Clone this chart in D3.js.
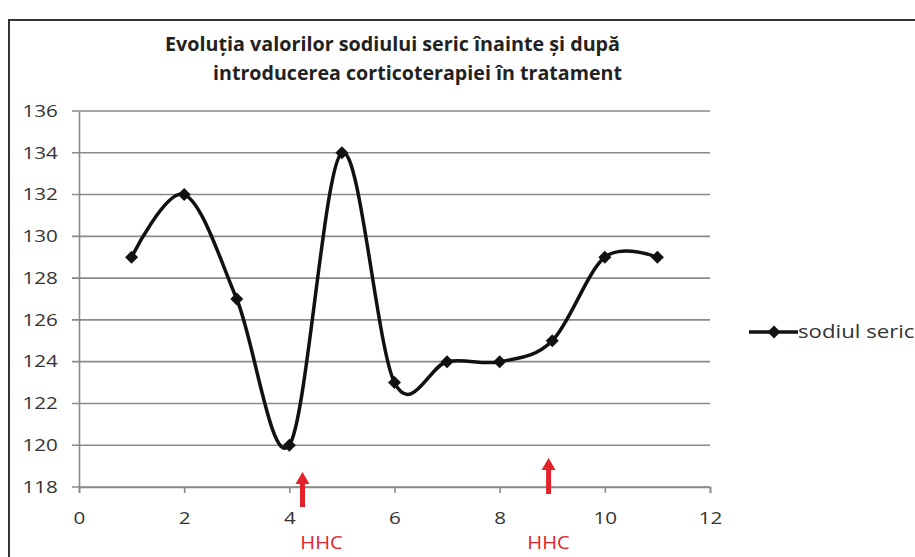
<!DOCTYPE html>
<html>
<head>
<meta charset="utf-8">
<script src="https://cdn.jsdelivr.net/npm/d3@7"></script>
<style>
  body { margin: 0; background: #fff; }
  text { font-family: "Open Sans", Lato, sans-serif; }
</style>
</head>
<body>
<script>
// data
const xs = [1, 2, 3, 4, 5, 6, 7, 8, 9, 10, 11];
const sodium = [129, 132, 127, 120, 134, 123, 124, 124, 125, 129, 129];
const xTicks = [0, 2, 4, 6, 8, 10, 12];
const yTicks = [118, 120, 122, 124, 126, 128, 130, 132, 134, 136];
const hhcMarks = [4.25, 8.93];
const titleLines = ["Evoluția valorilor sodiului seric înainte și după", "introducerea corticoterapiei în tratament"];
const seriesName = "sodiul seric";

const W = 915, H = 557;
// the source picture is a little stretched sideways, so the text is too
const stretch = 1.25;

const svg = d3.select("body").append("svg")
    .attr("width", W)
    .attr("height", H);

// frame
svg.append("rect")
    .attr("x", 9).attr("y", 20)
    .attr("width", 930).attr("height", 560)
    .attr("fill", "none")
    .attr("stroke", "#333")
    .attr("stroke-width", 2);

let x = d3.scaleLinear().domain([0, 12]).range([79, 710]);
let y = d3.scaleLinear().domain([118, 136]).range([487, 111]);

// title (positions of each line as in the picture)
const titleX = [165, 213], titleW = [455, 409], titleY = [51, 80];
svg.append("g")
   .selectAll("text")
   .data(titleLines)
   .enter()
   .append("text")
   .attr("x", (d, i) => titleX[i])
   .attr("y", (d, i) => titleY[i])
   .attr("textLength", (d, i) => titleW[i])
   .attr("lengthAdjust", "spacingAndGlyphs")
   .attr("font-size", 19)
   .attr("font-weight", "bold")
   .attr("fill", "#222")
   .text(d => d);

// grid lines
svg.append("g")
   .selectAll("line")
   .data(yTicks)
   .enter()
   .append("line")
   .attr("x1", 72).attr("x2", x(12))
   .attr("y1", d => y(d)).attr("y2", d => y(d))
   .attr("stroke", "#8a8a8a")
   .attr("stroke-width", 1.6);

// y axis
let yAxis = svg.append("g")
    .attr("transform", `translate(${x(0)},0)`)
    .call(d3.axisLeft(y).tickValues(yTicks).tickSize(0).tickPadding(17));
yAxis.select(".domain").attr("stroke", "#8a8a8a").attr("stroke-width", 1.6);
yAxis.selectAll("text")
     .attr("font-size", 16.5).attr("fill", "#333")
     .attr("transform", `scale(${stretch},1)`)
     .style("font-family", "'Open Sans', sans-serif");

// x axis
let xAxis = svg.append("g")
    .attr("transform", `translate(0,${y(118)})`)
    .call(d3.axisBottom(x).tickValues(xTicks).tickSize(6).tickPadding(19));
xAxis.select(".domain").attr("stroke", "#8a8a8a").attr("stroke-width", 1.6);
xAxis.selectAll(".tick line").attr("stroke", "#8a8a8a").attr("stroke-width", 1.6);
xAxis.selectAll("text")
     .attr("font-size", 16.5).attr("fill", "#333")
     .attr("transform", `scale(${stretch},1)`)
     .style("font-family", "'Open Sans', sans-serif");

// smoothed line
let line = d3.line()
    .x((d, i) => x(xs[i]))
    .y(d => y(d))
    .curve(d3.curveCardinal.tension(0));
svg.append("path")
   .datum(sodium)
   .attr("d", line)
   .attr("fill", "none")
   .attr("stroke", "#111")
   .attr("stroke-width", 3.5);

// diamond markers
let diamond = d3.symbol().type(d3.symbolSquare).size(85);
svg.append("g")
   .selectAll("path")
   .data(sodium)
   .enter()
   .append("path")
   .attr("d", diamond)
   .attr("transform", (d, i) => `translate(${x(xs[i])},${y(d)}) rotate(45)`)
   .attr("fill", "#111");

// HHC arrows
let hhc = svg.append("g")
    .selectAll("g")
    .data(hhcMarks)
    .enter()
    .append("g")
    .attr("transform", d => `translate(${x(d)},0)`);
hhc.append("line")
   .attr("x1", 0).attr("x2", 0)
   .attr("y1", (d, i) => i == 0 ? 482 : 468)
   .attr("y2", (d, i) => i == 0 ? 507 : 494)
   .attr("stroke", "#e3222b")
   .attr("stroke-width", 5);
hhc.append("path")
   .attr("d", (d, i) => {
       let t = i == 0 ? 472 : 458;
       return `M-7,${t + 12}L0,${t}L7,${t + 12}Z`;
   })
   .attr("fill", "#e3222b");
hhc.append("text")
   .attr("transform", (d, i) => `translate(${i == 0 ? 19 : 0},549) scale(1.12,1)`)
   .attr("text-anchor", "middle")
   .attr("font-size", 18)
   .attr("fill", "#e3222b")
   .text("HHC");

// legend
let legend = svg.append("g").attr("transform", "translate(749,332)");
legend.append("line")
   .attr("x1", 0).attr("x2", 49)
   .attr("stroke", "#111").attr("stroke-width", 3.5);
legend.append("path")
   .attr("d", diamond)
   .attr("transform", "translate(25,0) rotate(45)")
   .attr("fill", "#111");
legend.append("text")
   .attr("transform", "translate(49,6) scale(1.17,1)")
   .attr("font-size", 19)
   .attr("fill", "#333")
   .text(seriesName);
</script>
</body>
</html>
